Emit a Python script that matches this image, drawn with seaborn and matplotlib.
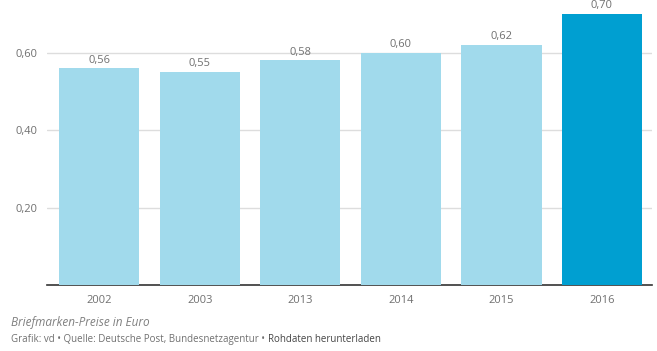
import matplotlib
matplotlib.use("Agg")
from matplotlib import pyplot as plt
import pandas as pd
import seaborn as sns

years = ['2002', '2003', '2013', '2014', '2015', '2016']
prices = [0.56, 0.55, 0.58, 0.60, 0.62, 0.70]
bar_colors = ['#a1daec', '#a1daec', '#a1daec', '#a1daec', '#a1daec', '#009fd1']

df = pd.DataFrame({'Jahr': years, 'Preis': prices})

sns.set_style('white')
plt.rcParams['font.family'] = ['Open Sans', 'DejaVu Sans']

fig = plt.figure(figsize=(6.57, 3.51), dpi=100)
ax = fig.add_axes([0.0715, 0.188, 0.921, 0.772])

sns.barplot(data=df, x='Jahr', y='Preis', hue='Jahr', palette=bar_colors,
            legend=False, width=0.8, saturation=1, linewidth=0, ax=ax, zorder=3)

ax.set_ylim(0, 0.70)
ax.set_xlim(-0.52, 5.5)
ax.set_yticks([0.2, 0.4, 0.6])
ax.set_yticklabels(['0,20', '0,40', '0,60'])
ax.yaxis.grid(True, color='#dddddd', linewidth=1, zorder=0)
ax.set_xlabel('')
ax.set_ylabel('')
ax.tick_params(axis='both', length=0, labelsize=8, colors='#707070')
ax.tick_params(axis='y', pad=7)
ax.tick_params(axis='x', pad=7)
for s in ['top', 'right', 'left']:
    ax.spines[s].set_visible(False)
ax.spines['bottom'].set_color('#333333')
ax.spines['bottom'].set_linewidth(1.2)

for i, v in enumerate(prices):
    ax.text(i, v + 0.007, f'{v:.2f}'.replace('.', ','), ha='center', va='bottom',
            fontsize=8, color='#707070', clip_on=False)

fig.text(0.016, 0.08, 'Briefmarken-Preise in Euro', fontsize=8.5, style='italic',
         color='#808080', va='center')
src = fig.text(0.016, 0.032, 'Grafik: vd \u2022 Quelle: Deutsche Post, Bundesnetzagentur \u2022',
               fontsize=7, color='#707070', va='center')
fig.canvas.draw()
bb = src.get_window_extent()
fig.text((bb.x1 + 3) / fig.bbox.width, 0.032, 'Rohdaten herunterladen',
         fontsize=7, color='#444444', va='center')

fig.savefig('out.png', dpi=100)
